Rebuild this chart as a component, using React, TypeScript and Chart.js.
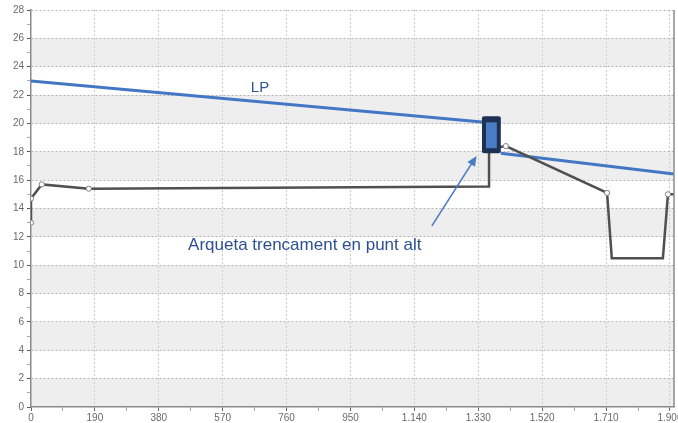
import React, { useEffect, useRef } from 'react';
import { Chart, registerables } from 'chart.js';

Chart.register(...registerables);

// ---- data ----
const profileX = [0, 0, 32, 172, 1362, 1362, 1412, 1713, 1727, 1879, 1894, 1912];
const profileY = [13.0, 14.7, 15.7, 15.4, 15.55, 18.2, 18.4, 15.1, 10.5, 10.5, 15.0, 15.0];
const profileMarker = [1, 1, 1, 1, 0, 0, 1, 1, 0, 0, 1, 0];

const lpX1 = [0, 1341];
const lpY1 = [23.0, 20.1];
const lpX2 = [1397, 1912];
const lpY2 = [17.9, 16.44];

const boxX = [1341, 1397];
const boxY = [17.9, 20.5];

const lpLabel = 'LP';
const lpLabelPos = [681, 22.5];

const noteText = 'Arqueta trencament en punt alt';
const notePos = [467, 11.43];
const arrowFrom = [1192, 12.77];
const arrowTo = [1325, 17.71];

const xMin = 0;
const xMax = 1912;
const yMin = 0;
const yMax = 28;
const xTicks = [0, 95, 190, 285, 380, 475, 570, 665, 760, 855, 950, 1045, 1140, 1235, 1330, 1425, 1520, 1615, 1710, 1805, 1900];
const xMajorStep = 190;
const yTicks = [0, 1, 2, 3, 4, 5, 6, 7, 8, 9, 10, 11, 12, 13, 14, 15, 16, 17, 18, 19, 20, 21, 22, 23, 24, 25, 26, 27, 28];
const yMajorStep = 2;

const fmt = (v: number) => String(v).replace(/\B(?=(\d{3})+(?!\d))/g, '.');

const FONT = "'Liberation Sans', Arial, sans-serif";

const bandsPlugin = {
  id: 'bands',
  beforeDraw(chart: any) {
    const { ctx, chartArea, scales } = chart;
    const y = scales.y;
    ctx.save();
    ctx.fillStyle = '#eeeeee';
    for (let v = yMin; v < yMax; v += yMajorStep * 2) {
      const top = y.getPixelForValue(Math.min(v + yMajorStep, yMax));
      const bot = y.getPixelForValue(v);
      ctx.fillRect(chartArea.left, top, chartArea.right - chartArea.left, bot - top);
    }
    ctx.restore();
  },
};

const annotPlugin = {
  id: 'annot',
  afterDatasetsDraw(chart: any) {
    const { ctx, chartArea, scales } = chart;
    const x = scales.x;
    const y = scales.y;
    ctx.save();
    // right border
    ctx.strokeStyle = '#8a8a8a';
    ctx.lineWidth = 1.5;
    ctx.beginPath();
    ctx.moveTo(chartArea.right, chartArea.top);
    ctx.lineTo(chartArea.right, chartArea.bottom);
    ctx.stroke();

    // box
    const bx0 = x.getPixelForValue(boxX[0]);
    const bx1 = x.getPixelForValue(boxX[1]);
    const by0 = y.getPixelForValue(boxY[1]);
    const by1 = y.getPixelForValue(boxY[0]);
    ctx.fillStyle = '#1d3154';
    ctx.beginPath();
    (ctx as any).roundRect(bx0, by0, bx1 - bx0, by1 - by0, 2);
    ctx.fill();
    ctx.fillStyle = '#4a7cc4';
    ctx.fillRect(bx0 + 4, by0 + 6, bx1 - bx0 - 8, by1 - by0 - 11);

    // LP label
    ctx.fillStyle = '#2f5597';
    ctx.font = `15px ${FONT}`;
    ctx.textAlign = 'center';
    ctx.textBaseline = 'middle';
    ctx.fillText(lpLabel, x.getPixelForValue(lpLabelPos[0]), y.getPixelForValue(lpLabelPos[1]));

    // note
    ctx.fillStyle = '#2c4f91';
    ctx.font = `17px ${FONT}`;
    ctx.textAlign = 'left';
    ctx.fillText(noteText, x.getPixelForValue(notePos[0]), y.getPixelForValue(notePos[1]));

    // arrow
    const ax0 = x.getPixelForValue(arrowFrom[0]);
    const ay0 = y.getPixelForValue(arrowFrom[1]);
    const ax1 = x.getPixelForValue(arrowTo[0]);
    const ay1 = y.getPixelForValue(arrowTo[1]);
    const ang = Math.atan2(ay1 - ay0, ax1 - ax0);
    const hl = 10;
    const hw = 4.5;
    ctx.strokeStyle = '#4a7cc4';
    ctx.fillStyle = '#4a7cc4';
    ctx.lineWidth = 1.6;
    ctx.beginPath();
    ctx.moveTo(ax0, ay0);
    ctx.lineTo(ax1 - Math.cos(ang) * hl * 0.8, ay1 - Math.sin(ang) * hl * 0.8);
    ctx.stroke();
    ctx.beginPath();
    ctx.moveTo(ax1, ay1);
    ctx.lineTo(ax1 - Math.cos(ang) * hl + Math.sin(ang) * hw, ay1 - Math.sin(ang) * hl - Math.cos(ang) * hw);
    ctx.lineTo(ax1 - Math.cos(ang) * hl - Math.sin(ang) * hw, ay1 - Math.sin(ang) * hl + Math.cos(ang) * hw);
    ctx.closePath();
    ctx.fill();
    ctx.restore();
  },
};

export default function App() {
  const ref = useRef<HTMLCanvasElement | null>(null);
  useEffect(() => {
    if (!ref.current) return;
    const profile = profileX.map((v, i) => ({ x: v, y: profileY[i] }));
    const lp1 = lpX1.map((v, i) => ({ x: v, y: lpY1[i] }));
    const lp2 = lpX2.map((v, i) => ({ x: v, y: lpY2[i] }));
    const chart = new Chart(ref.current, {
      type: 'line',
      data: {
        datasets: [
          {
            data: profile,
            borderColor: '#505050',
            borderWidth: 2.5,
            pointRadius: profileMarker.map((m) => (m ? 2.6 : 0)),
            pointBackgroundColor: '#ffffff',
            pointBorderColor: '#808080',
            pointBorderWidth: 1,
            tension: 0,
            fill: false,
          },
          {
            data: lp1,
            borderColor: '#4377c4',
            borderWidth: 3,
            pointRadius: 0,
            tension: 0,
            fill: false,
          },
          {
            data: lp2,
            borderColor: '#4377c4',
            borderWidth: 3,
            pointRadius: 0,
            tension: 0,
            fill: false,
          },
        ],
      },
      options: {
        responsive: false,
        animation: false,
        events: [],
        layout: { padding: { left: 0, right: 16, top: 10, bottom: 0 } },
        plugins: { legend: { display: false }, tooltip: { enabled: false } },
        scales: {
          x: {
            type: 'linear',
            min: xMin,
            max: xMax,
            afterBuildTicks: (s: any) => {
              s.ticks = xTicks.map((v) => ({ value: v }));
            },
            afterFit: (s: any) => {
              s.height = 16;
            },
            ticks: {
              autoSkip: false,
              maxRotation: 0,
              padding: 1,
              color: '#6a6a6a',
              font: { family: FONT, size: 10 },
              callback: (v: any) => (v % xMajorStep === 0 ? fmt(v) : ''),
            },
            grid: {
              color: (c: any) => (c.tick && c.tick.value % xMajorStep === 0 && c.tick.value !== 0 ? '#cdcdcd' : 'rgba(0,0,0,0)'),
              lineWidth: 1,
              drawTicks: true,
              tickLength: 4,
              tickColor: (c: any) => (c.tick && c.tick.value % xMajorStep === 0 ? '#666666' : '#aaaaaa'),
            },
            border: { display: true, color: '#8a8a8a', width: 1.5, dash: [2, 2] },
          },
          y: {
            type: 'linear',
            min: yMin,
            max: yMax,
            afterBuildTicks: (s: any) => {
              s.ticks = yTicks.map((v) => ({ value: v }));
            },
            afterFit: (s: any) => {
              s.width = 31;
            },
            ticks: {
              autoSkip: false,
              padding: 3,
              color: '#6a6a6a',
              font: { family: FONT, size: 10 },
              callback: (v: any) => (v % yMajorStep === 0 ? String(v) : ''),
            },
            grid: {
              color: (c: any) => (c.tick && c.tick.value % yMajorStep === 0 && c.tick.value !== 0 ? '#b4b4b4' : 'rgba(0,0,0,0)'),
              lineWidth: 1,
              drawTicks: true,
              tickLength: 4,
              tickColor: (c: any) => (c.tick && c.tick.value % yMajorStep === 0 ? '#555555' : '#aaaaaa'),
            },
            border: { display: true, color: '#8a8a8a', width: 1.5, dash: [2, 2] },
          },
        },
      },
      plugins: [bandsPlugin, annotPlugin],
    } as any);
    return () => chart.destroy();
  }, []);
  return (
    <div style={{ position: 'fixed', left: 0, top: 0, width: 678, height: 423, overflow: 'hidden', background: '#fff' }}>
      <canvas ref={ref} width={690} height={423} style={{ display: 'block' }} />
    </div>
  );
}
